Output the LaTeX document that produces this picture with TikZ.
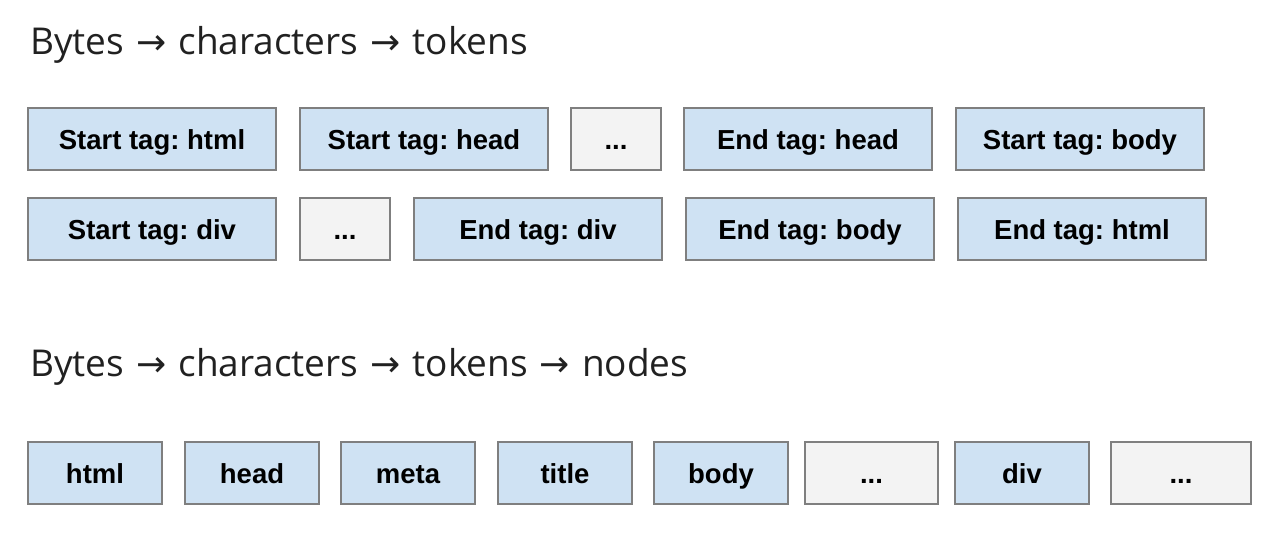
\documentclass[tikz,border=0pt]{standalone}
\usepackage{fontspec}
\setmainfont{Liberation Sans}
\newfontfamily\headfont{Open Sans}
\newfontfamily\arrowfont{DejaVu Sans}
\definecolor{tokblue}{HTML}{CFE2F3}
\definecolor{tokgray}{HTML}{F3F3F3}
\definecolor{tokline}{HTML}{7F7F7F}
\definecolor{headtext}{HTML}{212121}
% arrow between the stage names of a heading
\newcommand{\harrow}{\hspace{12pt}{\arrowfont\fontsize{36}{36}\selectfont →}\hspace{12pt}}
\frenchspacing
\begin{document}
\begin{tikzpicture}[x=1pt,y=-1pt,
  tokbox/.style={draw=tokline, line width=1.3pt, fill=tokblue, minimum height=62pt,
    inner sep=0pt, text height=20pt, text depth=0pt,
    font=\fontsize{27.5}{27.5}\selectfont\bfseries, text=black},
  morebox/.style={tokbox, fill=tokgray},
  heading/.style={anchor=base west, inner sep=0pt, text=headtext,
    font=\headfont\fontsize{37}{37}\selectfont}]
\useasboundingbox (0,0) rectangle (1280,538);

% headings
\node[heading] (h1) at (30,54) {Bytes\harrow characters\harrow tokens};
\node[heading] (h2) at (30,376) {Bytes\harrow characters\harrow tokens\harrow nodes};

% first row of tokens
\node[tokbox, minimum width=248pt] (t1) at (152,139) {Start tag: html};
\node[tokbox, minimum width=248pt] (t2) at (424,139) {Start tag: head};
\node[morebox, minimum width=90pt] (t3) at (616,139) {.{}.{}.};
\node[tokbox, minimum width=248pt] (t4) at (808,139) {End tag: head};
\node[tokbox, minimum width=248pt] (t5) at (1080,139) {Start tag: body};

% second row of tokens
\node[tokbox, minimum width=248pt] (u1) at (152,229) {Start tag: div};
\node[morebox, minimum width=90pt] (u2) at (345,229) {.{}.{}.};
\node[tokbox, minimum width=248pt] (u3) at (538,229) {End tag: div};
\node[tokbox, minimum width=248pt] (u4) at (810,229) {End tag: body};
\node[tokbox, minimum width=248pt] (u5) at (1082,229) {End tag: html};

% nodes
\node[tokbox, minimum width=134pt] (n1) at (95,473) {html};
\node[tokbox, minimum width=134pt] (n2) at (252,473) {head};
\node[tokbox, minimum width=134pt] (n3) at (408,473) {meta};
\node[tokbox, minimum width=134pt] (n4) at (565,473) {title};
\node[tokbox, minimum width=134pt] (n5) at (721,473) {body};
\node[morebox, minimum width=133pt] (n6) at (871.5,473) {.{}.{}.};
\node[tokbox, minimum width=134pt] (n7) at (1022,473) {div};
\node[morebox, minimum width=140pt] (n8) at (1181,473) {.{}.{}.};
\end{tikzpicture}
\end{document}
